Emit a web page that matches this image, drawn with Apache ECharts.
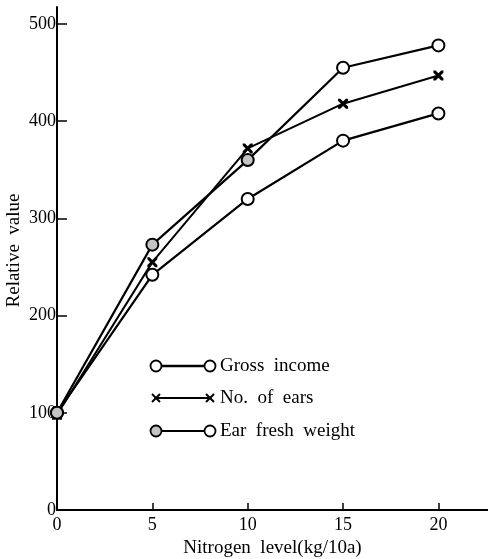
<!DOCTYPE html>
<html>
<head>
<meta charset="utf-8">
<script src="https://cdn.jsdelivr.net/npm/echarts@6/dist/echarts.min.js"></script>
<style>html,body{margin:0;padding:0;background:#fff}#c{width:488px;height:559px}</style>
</head>
<body>
<div id="c"></div>
<script>
var nitrogen = [0, 5, 10, 15, 20];
var grossIncome = [100, 242, 320, 380, 408];
var noOfEars = [98, 255, 372, 418, 447];
var earFreshWeight = [100, 273, 360, 455, 478];
var yTicks = [0, 100, 200, 300, 400, 500];
var xTicks = [0, 5, 10, 15, 20];
var legendNames = ['Gross  income', 'No.  of  ears', 'Ear  fresh  weight'];

var FONT = '"Liberation Serif", "DejaVu Serif", serif';
var crossPath = 'path://M0,0 L2.2,0 L5,2.8 L7.8,0 L10,0 L10,2.2 L7.2,5 L10,7.8 L10,10 L7.8,10 L5,7.2 L2.2,10 L0,10 L0,7.8 L2.8,5 L0,2.2 Z';

function pts(arr, shadeFirst) {
  return arr.map(function (v, i) {
    var d = { value: [nitrogen[i], v] };
    if (shadeFirst && i < 3) d.itemStyle = { color: '#c4c4c4' };
    return d;
  });
}

var chart = echarts.init(document.getElementById('c'), null, { renderer: 'canvas' });

var circleStyle = { color: '#fff', borderColor: '#000', borderWidth: 2 };

function crossAt(cx, cy) {
  var r = 4;
  return [
    { type: 'line', shape: { x1: cx - r, y1: cy - r, x2: cx + r, y2: cy + r }, style: { stroke: '#000', lineWidth: 2 }, z: 11 },
    { type: 'line', shape: { x1: cx - r, y1: cy + r, x2: cx + r, y2: cy - r }, style: { stroke: '#000', lineWidth: 2 }, z: 11 }
  ];
}

var rows = [366, 398, 431];
var graphics = [];
rows.forEach(function (y, k) {
  graphics.push({ type: 'line', shape: { x1: 156, y1: y, x2: 210, y2: y }, style: { stroke: '#000', lineWidth: k === 0 ? 2.6 : 2 }, z: 10 });
  if (k === 1) {
    graphics = graphics.concat(crossAt(156, y), crossAt(210, y));
  } else {
    graphics.push({ type: 'circle', shape: { cx: 156, cy: y, r: 5.5 }, style: { fill: k === 2 ? '#c4c4c4' : '#fff', stroke: '#000', lineWidth: 1.8 }, z: 11 });
    graphics.push({ type: 'circle', shape: { cx: 210, cy: y, r: 5.5 }, style: { fill: '#fff', stroke: '#000', lineWidth: 1.8 }, z: 11 });
  }
  graphics.push({ type: 'text', x: 220, y: y, style: { text: legendNames[k], font: '19px ' + FONT, fill: '#000', verticalAlign: 'middle' }, z: 11 });
});

chart.setOption({
  animation: false,
  backgroundColor: '#fff',
  grid: { left: 57, right: 0, top: 7, bottom: 49, containLabel: false, outerBoundsMode: 'none' },
  xAxis: {
    type: 'value', min: 0, max: 22.6,
    name: 'Nitrogen  level(kg/10a)', nameLocation: 'middle', nameGap: 29, nameMoveOverlap: false,
    nameTextStyle: { fontFamily: FONT, fontSize: 19, color: '#000' },
    axisLine: { show: true, onZero: false, lineStyle: { color: '#000', width: 2 } },
    axisTick: { show: true, inside: true, length: 7, lineStyle: { color: '#000', width: 1.5 }, customValues: xTicks },
    axisLabel: { color: '#000', fontFamily: FONT, fontSize: 18, margin: 6, customValues: xTicks },
    splitLine: { show: false }
  },
  yAxis: {
    type: 'value', min: 0, max: 517.5,
    name: 'Relative  value', nameLocation: 'middle', nameGap: 33, nameRotate: 90, nameMoveOverlap: false,
    nameTextStyle: { fontFamily: FONT, fontSize: 19, color: '#000', padding: [0, 0, 0, 16] },
    axisLine: { show: true, onZero: false, lineStyle: { color: '#000', width: 2 } },
    axisTick: { show: true, inside: true, length: 10, lineStyle: { color: '#000', width: 1.5 }, customValues: yTicks },
    axisLabel: { color: '#000', fontFamily: FONT, fontSize: 18, margin: 1, customValues: yTicks },
    splitLine: { show: false }
  },
  series: [
    { name: legendNames[0], type: 'line', data: pts(grossIncome, false), symbol: 'circle', symbolSize: 12,
      lineStyle: { color: '#000', width: 2.2 }, itemStyle: circleStyle, z: 3 },
    { name: legendNames[1], type: 'line', data: pts(noOfEars, false), symbol: crossPath, symbolSize: 10,
      lineStyle: { color: '#000', width: 2 }, itemStyle: { color: '#000' }, z: 4 },
    { name: legendNames[2], type: 'line', data: pts(earFreshWeight, true), symbol: 'circle', symbolSize: 12,
      lineStyle: { color: '#000', width: 2.2 }, itemStyle: circleStyle, z: 5 }
  ],
  graphic: graphics
});
</script>
</body>
</html>
